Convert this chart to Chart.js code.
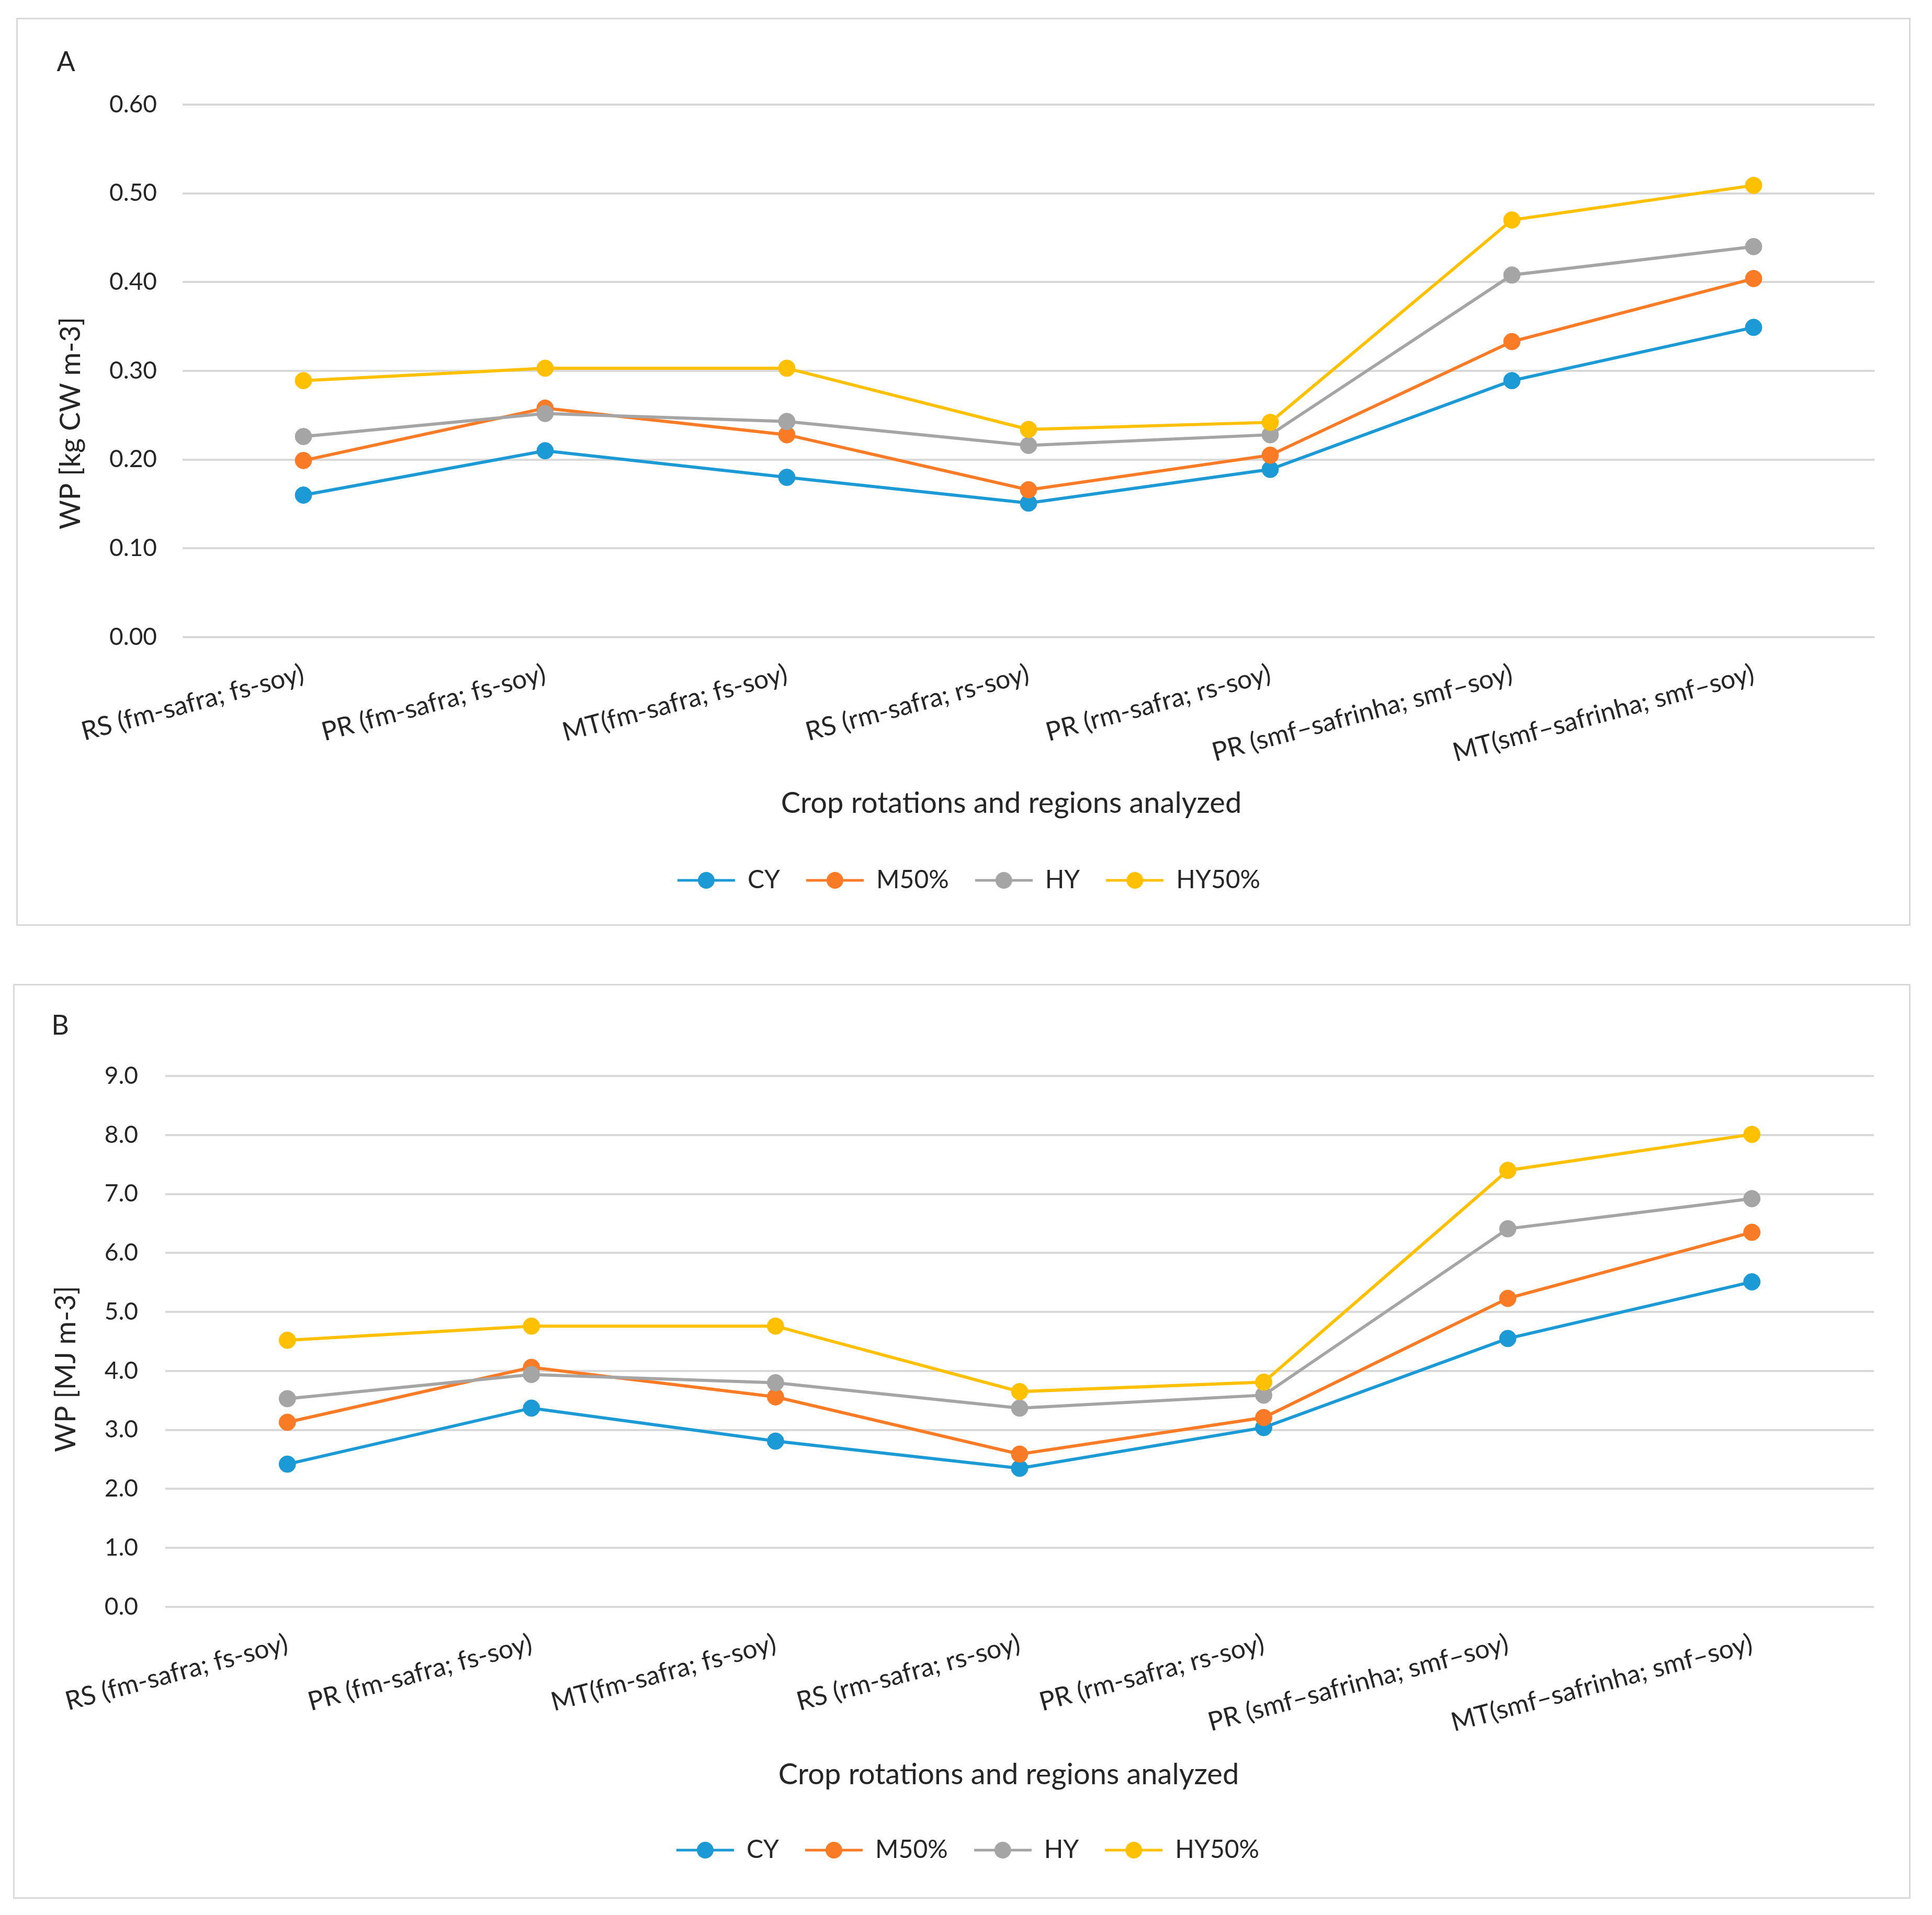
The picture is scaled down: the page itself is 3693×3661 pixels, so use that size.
<!DOCTYPE html>
<html>
<head>
<meta charset="utf-8">
<script src="https://cdn.jsdelivr.net/npm/chart.js@4.4.1/dist/chart.umd.min.js"></script>
<style>
  html, body { margin: 0; padding: 0; background: #fff; }
  body { width: 3693px; height: 3661px; position: relative; overflow: hidden; }
  .panel { position: absolute; border: 3px solid #d9d9d9; background: #fff; }
  #panelA { left: 31px; top: 34px; width: 3615px; height: 1730px; }
  #panelB { left: 25px; top: 1881px; width: 3621px; height: 1743px; }
  canvas { display: block; }
</style>
</head>
<body>
<div class="panel" id="panelA"><canvas id="chartA" width="3615" height="1730"></canvas></div>
<div class="panel" id="panelB"><canvas id="chartB" width="3621" height="1743"></canvas></div>

<script>
// categories on the x axis (same for both panels)
const categories = [
    'RS (fm-safra; fs-soy)',
    'PR (fm-safra; fs-soy)',
    'MT(fm-safra; fs-soy)',
    'RS (rm-safra; rs-soy)',
    'PR (rm-safra; rs-soy)',
    'PR (smf\u2013safrinha; smf\u2013soy)',
    'MT(smf\u2013safrinha; smf\u2013soy)'
];
const seriesNames = ['CY', 'M50%', 'HY', 'HY50%'];

// Panel A: WP [kg CW m-3]
const kgCY   = [0.160, 0.210, 0.180, 0.151, 0.189, 0.289, 0.349];
const kgM50  = [0.199, 0.258, 0.228, 0.166, 0.205, 0.333, 0.404];
const kgHY   = [0.226, 0.252, 0.243, 0.216, 0.228, 0.408, 0.440];
const kgHY50 = [0.289, 0.303, 0.303, 0.234, 0.242, 0.470, 0.509];
const ticksA = [0, 0.1, 0.2, 0.3, 0.4, 0.5, 0.6];

// Panel B: WP [MJ m-3]
const mjCY   = [2.42, 3.37, 2.81, 2.35, 3.04, 4.55, 5.51];
const mjM50  = [3.13, 4.06, 3.56, 2.59, 3.21, 5.23, 6.35];
const mjHY   = [3.53, 3.94, 3.80, 3.37, 3.59, 6.41, 6.92];
const mjHY50 = [4.52, 4.76, 4.76, 3.65, 3.81, 7.40, 8.01];
const ticksB = [0, 1, 2, 3, 4, 5, 6, 7, 8, 9];

const xTitle = 'Crop rotations and regions analyzed';
const colors = ['#1b9ad6', '#f97b26', '#a5a5a5', '#ffc000'];
const textColor = '#262626';
const gridColor = '#d9d9d9';
const fontFamily = 'Lato, "Noto Sans", sans-serif';

// legend symbol: short line with a dot in the middle, like the Excel legend
function legendIcon(color) {
    const c = document.createElement('canvas');
    c.width = 110;
    c.height = 36;
    const g = c.getContext('2d');
    g.strokeStyle = color;
    g.lineWidth = 5;
    g.beginPath();
    g.moveTo(0, 18);
    g.lineTo(110, 18);
    g.stroke();
    g.fillStyle = color;
    g.beginPath();
    g.arc(55, 18, 16, 0, Math.PI * 2);
    g.fill();
    return c;
}

// panel letter and both axis titles (Excel does not centre them on the plot area)
const panelText = {
    id: 'panelText',
    afterDraw(chart, args, opts) {
        const ctx = chart.ctx;
        ctx.save();
        ctx.fillStyle = textColor;
        ctx.textAlign = 'center';
        ctx.textBaseline = 'middle';
        ctx.font = '52px ' + fontFamily;
        ctx.fillText(opts.letter, opts.letterX, opts.letterY);
        ctx.font = '56px ' + fontFamily;
        ctx.fillText(xTitle, opts.xTitleX, chart.chartArea.bottom + opts.xTitleDy);
        ctx.translate(opts.titleX, opts.titleY);
        ctx.rotate(-Math.PI / 2);
        ctx.font = '54px ' + fontFamily;
        ctx.fillText(opts.title, 0, 0);
        ctx.restore();
    }
};

function makeChart(id, values, tickValues, decimals, p) {
    const datasets = values.map((vals, i) => ({
        label: seriesNames[i],
        data: vals,
        borderColor: colors[i],
        backgroundColor: colors[i],
        pointBackgroundColor: colors[i],
        pointBorderColor: colors[i],
        borderWidth: 6,
        pointRadius: 16,
        pointBorderWidth: 1,
        tension: 0,
        order: values.length - i // later series drawn on top
    }));

    return new Chart(document.getElementById(id), {
        type: 'line',
        data: { labels: categories, datasets: datasets },
        plugins: [panelText],
        options: {
            responsive: false,
            animation: false,
            layout: { padding: { top: p.top, right: p.right, bottom: p.bottom, left: p.left } },
            scales: {
                x: {
                    offset: true,
                    grid: { display: false, drawTicks: false },
                    border: { display: false },
                    ticks: {
                        autoSkip: false,
                        minRotation: 15,
                        maxRotation: 15,
                        padding: p.xTickPad,
                        color: textColor,
                        font: { family: fontFamily, size: 50 }
                    },
                    afterFit(scale) { scale.height = p.xHeight; }
                },
                y: {
                    min: tickValues[0],
                    max: tickValues[tickValues.length - 1],
                    grid: { color: gridColor, lineWidth: 4, drawTicks: false },
                    border: { display: false },
                    afterBuildTicks(scale) {
                        scale.ticks = tickValues.map(v => ({ value: v }));
                    },
                    ticks: {
                        padding: p.yTickPad,
                        color: textColor,
                        font: { family: fontFamily, size: 46 },
                        callback: v => Number(v).toFixed(decimals)
                    },
                    afterFit(scale) { scale.width = p.yWidth; }
                }
            },
            plugins: {
                tooltip: { enabled: false },
                legend: {
                    position: 'bottom',
                    labels: {
                        usePointStyle: true,
                        pointStyleWidth: 110,
                        boxHeight: 36,
                        padding: 50,
                        color: textColor,
                        font: { family: fontFamily, size: 48 },
                        generateLabels(chart) {
                            const items = Chart.defaults.plugins.legend.labels.generateLabels(chart);
                            items.sort((a, b) => a.datasetIndex - b.datasetIndex);
                            items.forEach(it => { it.pointStyle = legendIcon(colors[it.datasetIndex]); });
                            return items;
                        }
                    }
                },
                panelText: p.text
            }
        }
    });
}

makeChart('chartA', [kgCY, kgM50, kgHY, kgHY50], ticksA, 2, {
    top: 163, right: 66, bottom: 50, left: 87,
    xHeight: 391, xTickPad: 40,
    yWidth: 228, yTickPad: 49,
    text: { letter: 'A', letterX: 92, letterY: 82, xTitleX: 1899, xTitleDy: 318,
            title: 'WP [kg CW m-3]', titleX: 102, titleY: 772 }
});

makeChart('chartB', [mjCY, mjM50, mjHY, mjHY50], ticksB, 1, {
    top: 173, right: 67, bottom: 56, left: 90,
    xHeight: 391, xTickPad: 40,
    yWidth: 198, yTickPad: 52,
    text: { letter: 'B', letterX: 87, letterY: 77, xTitleX: 1900, xTitleDy: 321,
            title: 'WP [MJ m-3]', titleX: 99, titleY: 733 }
});
</script>
</body>
</html>
